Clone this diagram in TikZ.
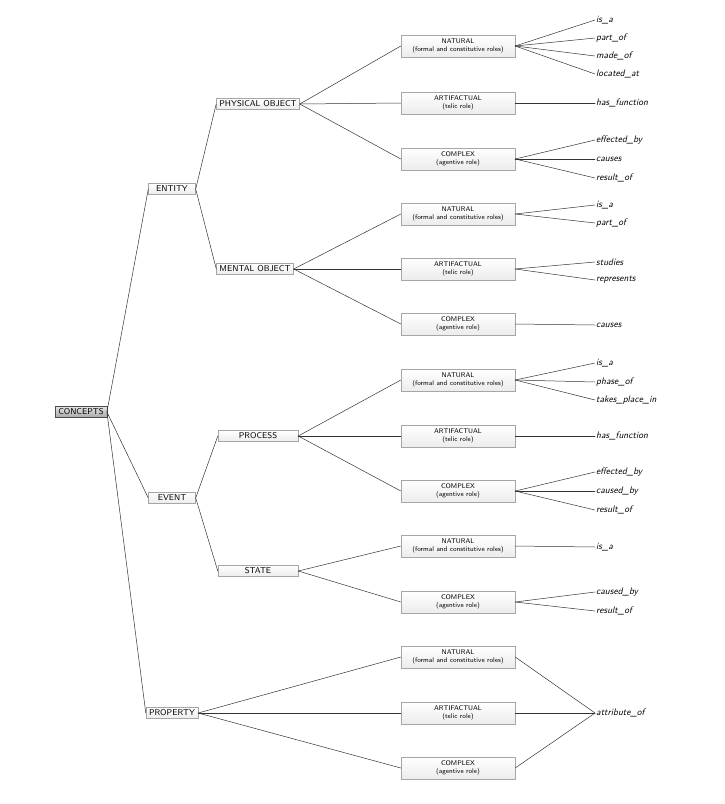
\documentclass[tikz,border=0pt]{standalone}
\usepackage{tikz}
\usetikzlibrary{positioning}
\begin{document}
\begin{tikzpicture}[x=1pt, y=-1pt, line cap=round]
  \tikzset{cbox/.style={draw=gray!70, top color=white, bottom color=gray!15, font=\sffamily\fontsize{8.5}{9}\selectfont, inner xsep=3pt, inner ysep=2.5pt},
    rbox/.style={cbox, minimum width=114pt, minimum height=22pt, align=center, font=\sffamily\fontsize{6.8}{8.2}\selectfont},
    root/.style={cbox, draw=gray!60!black, top color=gray!20, bottom color=gray!70},
    rel/.style={font=\sffamily\itshape\fontsize{9.5}{10}\selectfont, anchor=west, inner sep=1pt},
    link/.style={draw=black!80, line width=0.5pt}}
  \useasboundingbox (0,0) rectangle (725,804);
  % hoofdknopen
  \node[root] (concepts) at (81,412) {CONCEPTS};
  \node[cbox, minimum width=47pt] (entity) at (172,189) {ENTITY};
  \node[cbox, minimum width=47pt] (event) at (172,498) {EVENT};
  \node[cbox, minimum width=47pt] (property) at (172,713) {PROPERTY};
  \node[cbox, minimum width=80pt] (phys) at (258,104) {PHYSICAL OBJECT};
  \node[cbox, minimum width=74pt] (ment) at (255,269) {MENTAL OBJECT};
  \node[cbox, minimum width=80pt] (proc) at (258,436) {PROCESS};
  \node[cbox, minimum width=80pt] (state) at (258,571) {STATE};
  \foreach \c in {entity,event,property} \draw[link] (concepts.east) -- (\c.west);
  \draw[link] (entity.east) -- (phys.west);
  \draw[link] (entity.east) -- (ment.west);
  \draw[link] (event.east) -- (proc.west);
  \draw[link] (event.east) -- (state.west);
  % rollen
  \foreach \n/\p/\y/\t in {pn/phys/46/{NATURAL\\(formal and constitutive roles)}, pa/phys/103/{ARTIFACTUAL\\(telic role)}, pc/phys/159/{COMPLEX\\(agentive role)},
      mn/ment/214/{NATURAL\\(formal and constitutive roles)}, ma/ment/269/{ARTIFACTUAL\\(telic role)}, mc/ment/324/{COMPLEX\\(agentive role)},
      rn/proc/380/{NATURAL\\(formal and constitutive roles)}, ra/proc/436/{ARTIFACTUAL\\(telic role)}, rc/proc/491/{COMPLEX\\(agentive role)},
      sn/state/546/{NATURAL\\(formal and constitutive roles)}, sc/state/602/{COMPLEX\\(agentive role)},
      qn/property/657/{NATURAL\\(formal and constitutive roles)}, qa/property/713/{ARTIFACTUAL\\(telic role)}, qc/property/768/{COMPLEX\\(agentive role)}}{
    \node[rbox] (\n) at (458,\y) {\t};
    \draw[link] (\p.east) -- (\n.west);
  }
  % relaties
  \foreach \r/\y/\t in {pn/20/is\_a, pn/38/part\_of, pn/56/made\_of, pn/74/located\_at, pa/103/has\_function,
      pc/140/effected\_by, pc/159/causes, pc/178/result\_of, mn/205/is\_a, mn/223/part\_of, ma/262/studies, ma/280/represents,
      mc/325/causes, rn/363/is\_a, rn/382/phase\_of, rn/400/takes\_place\_in, ra/436/has\_function,
      rc/472/effected\_by, rc/491/caused\_by, rc/510/result\_of, sn/547/is\_a, sc/592/caused\_by, sc/611/result\_of}{
    \node[rel] (l\r\y) at (595,\y) {\t};
    \draw[link] (\r.east) -- (l\r\y.west);
  }
  \node[rel] (attr) at (595,713) {attribute\_of};
  \foreach \q in {qn,qa,qc} \draw[link] (\q.east) -- (attr.west);
\end{tikzpicture}
\end{document}
